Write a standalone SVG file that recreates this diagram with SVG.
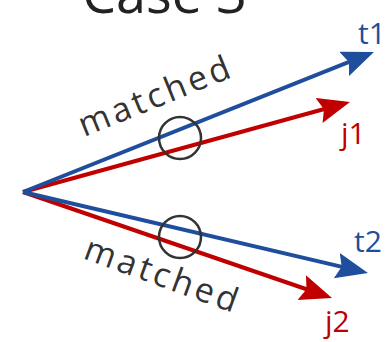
<svg xmlns="http://www.w3.org/2000/svg" width="389" height="342" viewBox="0 0 389 342">
<style>
.title{font-family:"Open Sans","Liberation Sans",sans-serif;font-size:54px;fill:#222}
.lbl{font-family:"Open Sans","Liberation Sans",sans-serif;font-size:30px}
.m{font-family:"Open Sans","Liberation Sans",sans-serif;font-size:34px;fill:#333;letter-spacing:3.5px}
.blue{stroke:#1f4e9c;stroke-width:4;fill:none}
.red{stroke:#c00000;stroke-width:4;fill:none}
.ring{stroke:#333;stroke-width:2.5;fill:none}
</style>
<defs>
<marker id="ab" markerUnits="userSpaceOnUse" markerWidth="40" markerHeight="30" refX="12" refY="13" orient="auto" viewBox="0 0 40 30">
<path d="M0,0 L32,13 L0,26 L5,13 Z" fill="#1f4e9c"/>
</marker>
<marker id="ar" markerUnits="userSpaceOnUse" markerWidth="40" markerHeight="30" refX="12" refY="13" orient="auto" viewBox="0 0 40 30">
<path d="M0,0 L32,13 L0,26 L5,13 Z" fill="#c00000"/>
</marker>
</defs>
<text class="title" x="82" y="13">Case 3</text>
<g id="connectors">
<line class="red" x1="23" y1="192" x2="330.7" y2="107.3" marker-end="url(#ar)"/>
<line class="red" x1="23" y1="192" x2="313.1" y2="291.5" marker-end="url(#ar)"/>
<line class="blue" x1="23" y1="192" x2="355.4" y2="59.4" marker-end="url(#ab)"/>
<line class="blue" x1="23" y1="192" x2="348.5" y2="268.4" marker-end="url(#ab)"/>
</g>
<g id="match1">
<circle class="ring" cx="180" cy="138" r="21"/>
<text class="m" transform="translate(84,137) rotate(-22)">matched</text>
</g>
<g id="match2">
<circle class="ring" cx="180" cy="237" r="21"/>
<text class="m" transform="translate(82,258) rotate(20)">matched</text>
</g>
<g id="t1"><text class="lbl" x="358" y="44" fill="#1f4e9c">t1</text></g>
<g id="j1"><text class="lbl" x="341" y="144" fill="#c00000">j1</text></g>
<g id="t2"><text class="lbl" x="354" y="252" fill="#1f4e9c">t2</text></g>
<g id="j2"><text class="lbl" x="325" y="332" fill="#c00000">j2</text></g>
</svg>
